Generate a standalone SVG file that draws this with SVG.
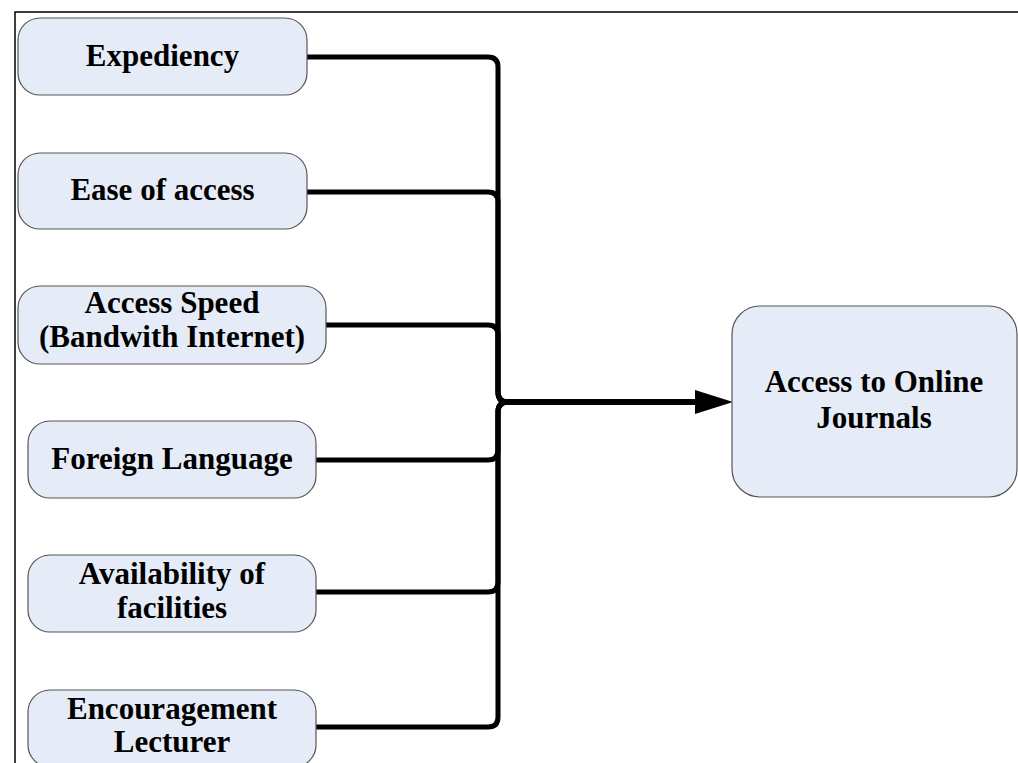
<svg xmlns="http://www.w3.org/2000/svg" width="1018" height="763" viewBox="0 0 1018 763">
<style>
.box{fill:#e6ecf7;stroke:#555;stroke-width:1.2}
.t{font-family:"Liberation Serif","Times New Roman",serif;font-weight:bold;font-size:31px;fill:#000;text-anchor:middle}
.c{fill:none;stroke:#000;stroke-width:5;stroke-linejoin:round}
</style>
<defs>
<marker id="ah" viewBox="0 0 10 10" refX="10" refY="5" markerWidth="7.5" markerHeight="5" markerUnits="strokeWidth" orient="auto">
<path d="M0,0 L10,5 L0,10 Z" fill="#000"/>
</marker>
</defs>
<rect width="1018" height="763" fill="#fff"/>
<path d="M15,763 V12 H1018" fill="none" stroke="#000" stroke-width="1.5"/>
<g id="connectors">
<path class="c" d="M307,57 H488 Q498,57 498,67 V392 Q498,402 508,402 H700"/>
<path class="c" d="M307,192 H488 Q498,192 498,202 V392 Q498,402 508,402 H700"/>
<path class="c" d="M326,325 H488 Q498,325 498,335 V392 Q498,402 508,402 H700"/>
<path class="c" d="M316,460 H488 Q498,460 498,450 V412 Q498,402 508,402 H700"/>
<path class="c" d="M316,592 H488 Q498,592 498,582 V412 Q498,402 508,402 H700"/>
<path class="c" d="M316,727 H488 Q498,727 498,717 V412 Q498,402 508,402 H700"/>
<polygon points="733,402 695,390 695,414" fill="#000"/>
</g>
<g id="n1"><rect class="box" x="18" y="18" width="289" height="77" rx="22"/><text class="t" x="162.5" y="66">Expediency</text></g>
<g id="n2"><rect class="box" x="18" y="153" width="289" height="76" rx="22"/><text class="t" x="162.5" y="200">Ease of access</text></g>
<g id="n3"><rect class="box" x="18" y="286" width="308" height="78" rx="22"/><text class="t" x="172" y="313">Access Speed</text><text class="t" x="172" y="347">(Bandwith Internet)</text></g>
<g id="n4"><rect class="box" x="28" y="421" width="288" height="77" rx="22"/><text class="t" x="172" y="469">Foreign Language</text></g>
<g id="n5"><rect class="box" x="28" y="555" width="288" height="77" rx="22"/><text class="t" x="172" y="584">Availability of</text><text class="t" x="172" y="618">facilities</text></g>
<g id="n6"><rect class="box" x="28" y="690" width="288" height="77" rx="22"/><text class="t" x="172" y="719">Encouragement</text><text class="t" x="172" y="752">Lecturer</text></g>
<g id="n7"><rect class="box" x="732" y="306" width="285" height="191" rx="28"/><text class="t" x="874" y="392">Access to Online</text><text class="t" x="874" y="428">Journals</text></g>
</svg>
